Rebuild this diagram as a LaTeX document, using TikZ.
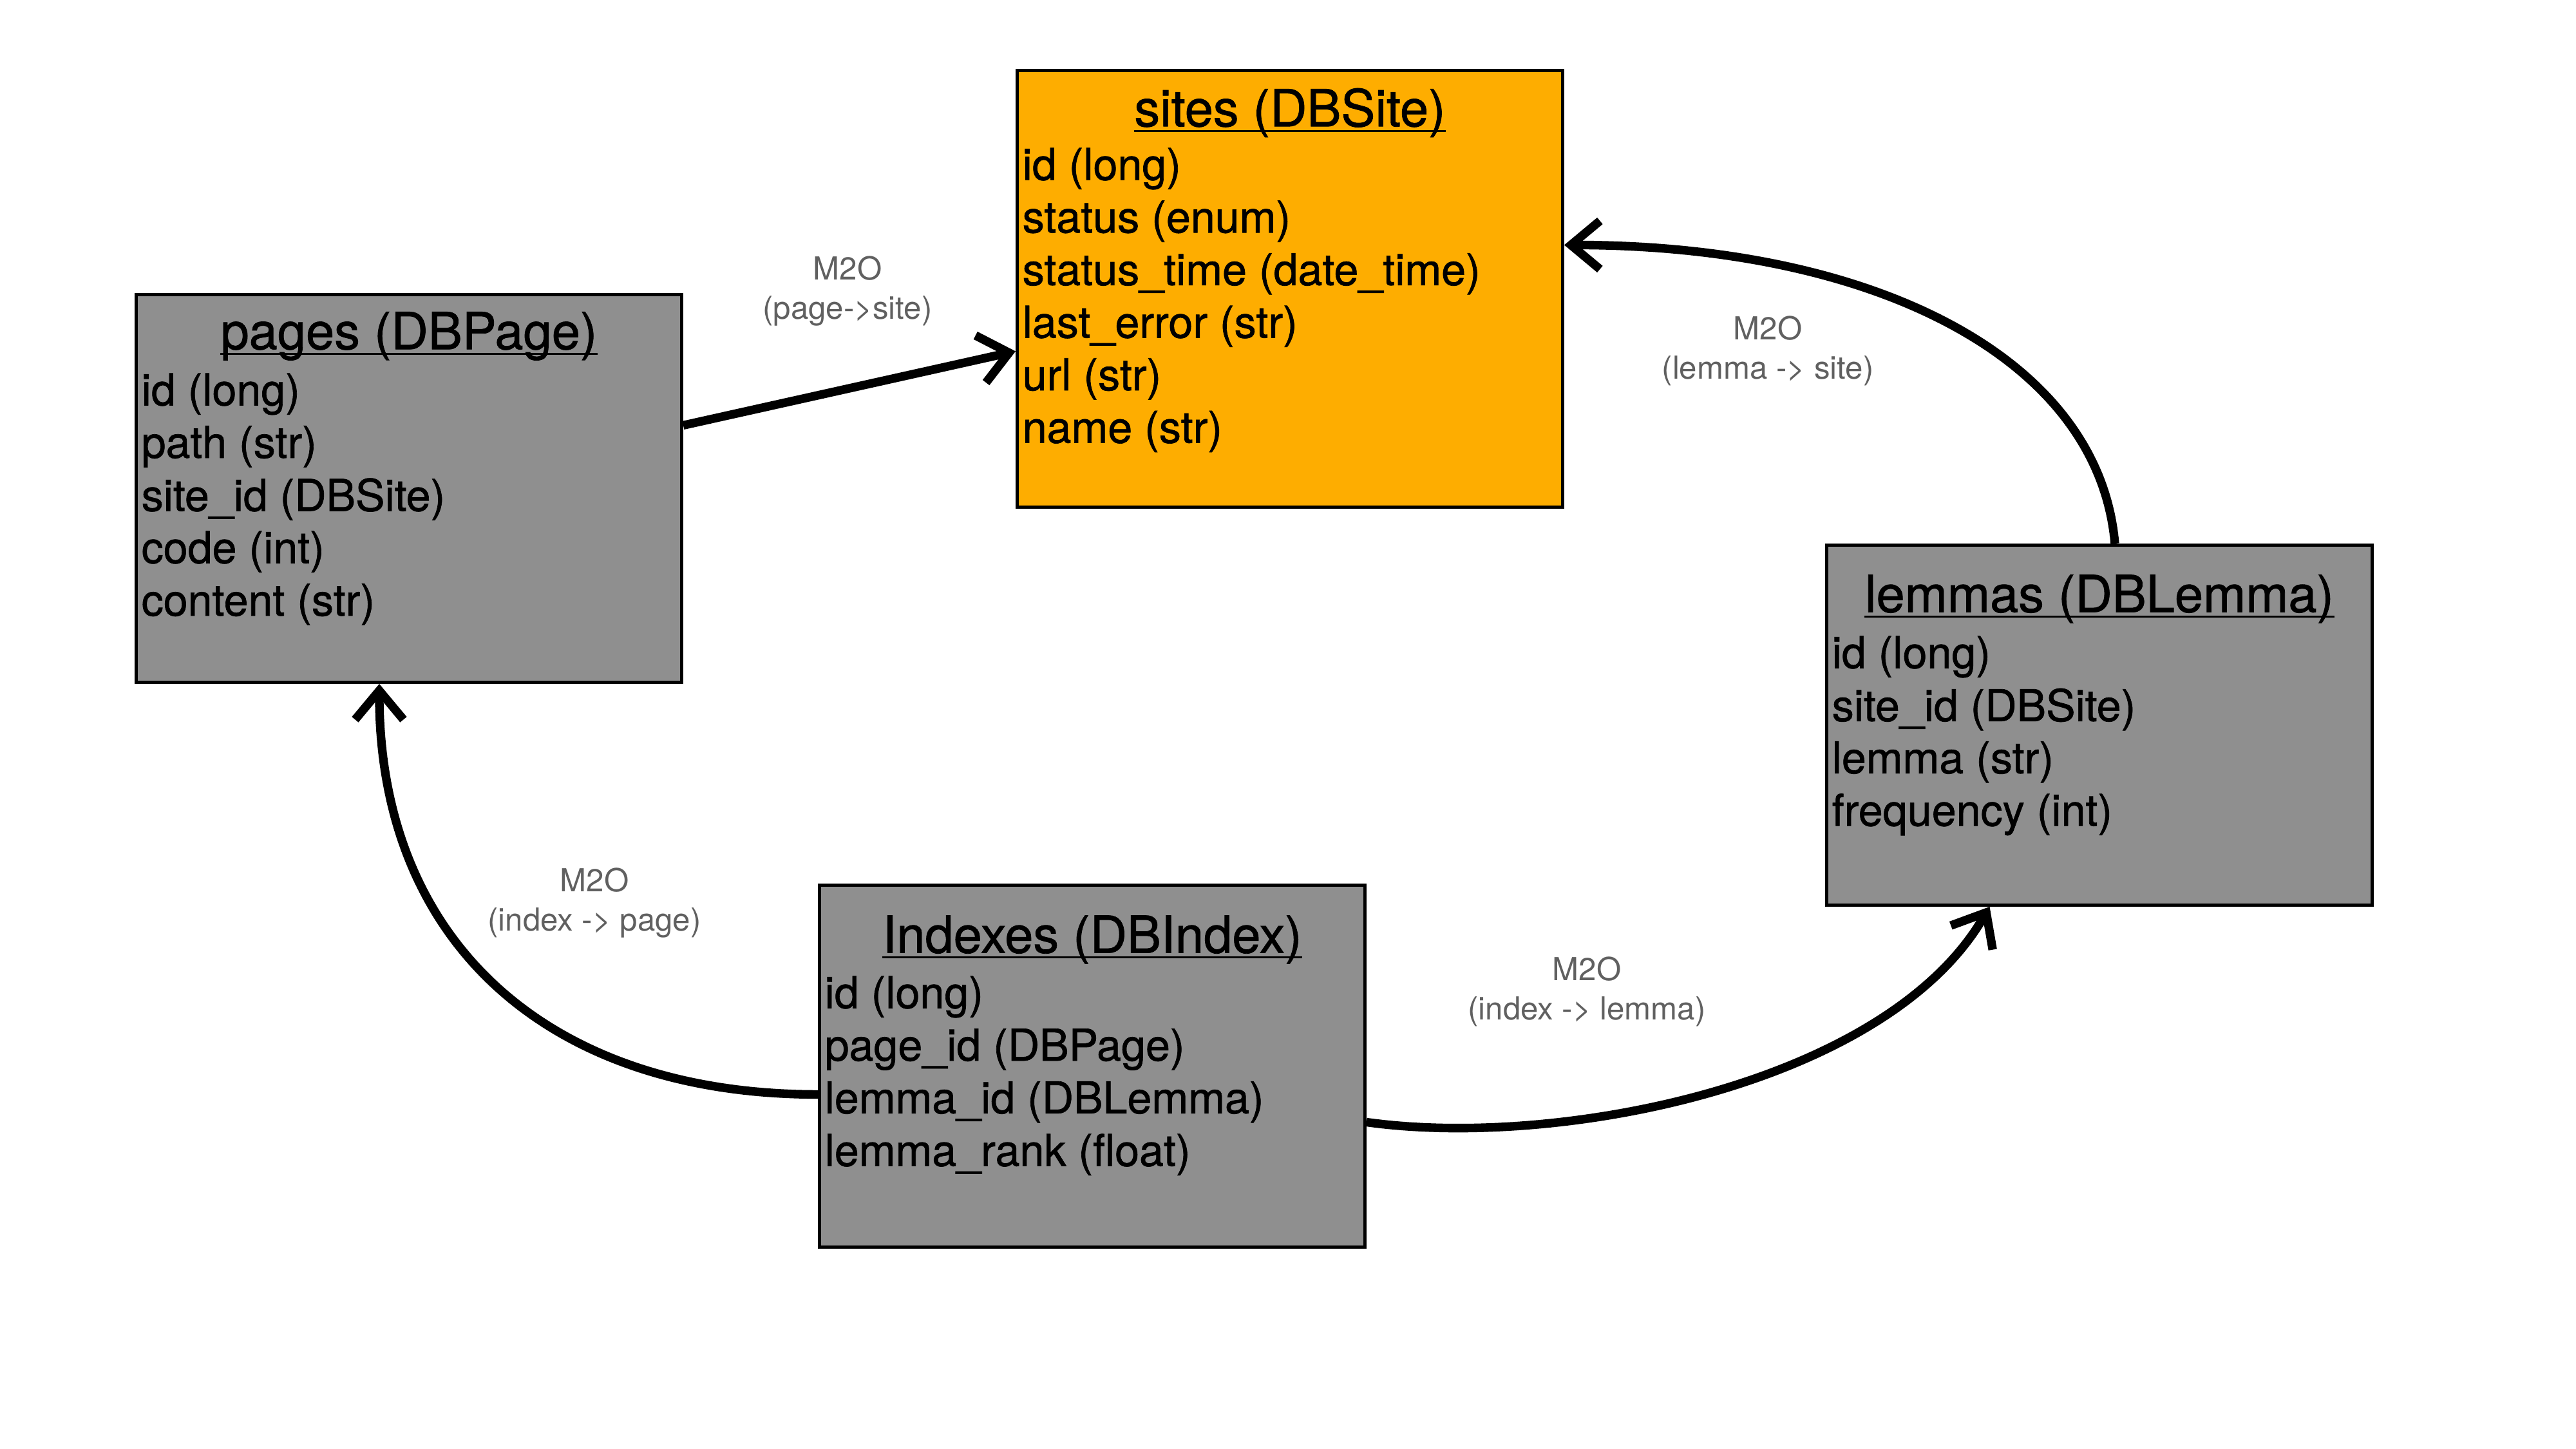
\documentclass[tikz,border=0pt]{standalone}
\usepackage{fontspec}
\setmainfont{TeX Gyre Heros}
\newfontfamily\tabfont[FakeBold=1]{TeX Gyre Heros}
\usetikzlibrary{arrows.meta}

\definecolor{siteorange}{HTML}{FEAD00}
\definecolor{tablegray}{HTML}{8F8F8F}
\definecolor{relgray}{HTML}{606060}

\begin{document}
\begin{tikzpicture}[
		table/.style={draw=black, line width=1.4pt, fill=tablegray, minimum width=8.47cm, inner sep=0pt, anchor=north west},
		tabtitle/.style={inner sep=0pt, font=\tabfont\fontsize{22.6}{26}\selectfont},
		field/.style={inner sep=0pt, anchor=west, font=\tabfont\fontsize{19.4}{23}\selectfont},
		uline/.style={line width=1pt},
		rel/.style={line width=3.8pt, -{Straight Barb[length=4.5mm, width=7.5mm]}},
		rellabel/.style={text=relgray, align=center, font=\fontsize{14}{17.4}\selectfont}
	]
	\useasboundingbox (0, 0) rectangle (40, -22.5);

	% tables
	\node[table, fill=siteorange, minimum height=6.78cm] (sites) at (15.77, -1.07) {};
	\node[table, minimum height=6.02cm] (pages) at (2.09, -4.55) {};
	\node[table, minimum height=5.59cm] (lemmas) at (28.34, -8.44) {};
	\node[table, minimum height=5.62cm] (indexes) at (12.70, -13.72) {};

	% titles
	\node[tabtitle] (sites-title) at ([yshift=-0.68cm]sites.north) {sites (DBSite)};
	\node[tabtitle] (pages-title) at ([yshift=-0.67cm]pages.north) {pages (DBPage)};
	\node[tabtitle] (lemmas-title) at ([yshift=-0.86cm]lemmas.north) {lemmas (DBLemma)};
	\node[tabtitle] (indexes-title) at ([yshift=-0.87cm]indexes.north) {Indexes (DBIndex)};
	\foreach \t in {sites-title, pages-title, lemmas-title, indexes-title}
		\draw[uline] ([yshift=-2pt]\t.base west) -- ([yshift=-2pt]\t.base east);

	% fields
	\foreach \f [count=\i] in {id (long), status (enum), status\_time (date\_time), last\_error (str), url (str), name (str)}
		\node[field] (sites-f\i) at ([xshift=0.1cm, yshift={-1.55cm-(\i-1)*0.816cm}]sites.north west) {\f};
	\foreach \f [count=\i] in {id (long), path (str), site\_id (DBSite), code (int), content (str)}
		\node[field] (pages-f\i) at ([xshift=0.1cm, yshift={-1.57cm-(\i-1)*0.816cm}]pages.north west) {\f};
	\foreach \f [count=\i] in {id (long), site\_id (DBSite), lemma (str), frequency (int)}
		\node[field] (lemmas-f\i) at ([xshift=0.1cm, yshift={-1.76cm-(\i-1)*0.816cm}]lemmas.north west) {\f};
	\foreach \f [count=\i] in {id (long), page\_id (DBPage), lemma\_id (DBLemma), lemma\_rank (float)}
		\node[field] (indexes-f\i) at ([xshift=0.1cm, yshift={-1.76cm-(\i-1)*0.816cm}]indexes.north west) {\f};

	% relations
	\draw[rel] ([yshift=0.98cm]pages.east) -- ([yshift=-0.97cm]sites.west);
	\node[rellabel] (page-site) at (13.16, -4.52) {M2O\\(page->site)};

	\draw[rel] ([xshift=0.24cm]lemmas.north) .. controls +(95:2.9) and +(4.8, 0) .. ([yshift=0.68cm]sites.east);
	\node[rellabel] (lemma-site) at (27.45, -5.45) {M2O\\(lemma -> site)};

	\draw[rel] ([yshift=-0.44cm]indexes.west) .. controls +(-4.2, 0) and +(0, -4.0) .. ([xshift=-0.46cm]pages.south);
	\node[rellabel] (index-page) at (9.23, -14.02) {M2O\\(index -> page)};

	\draw[rel] ([yshift=-0.87cm]indexes.east) .. controls +(-8:3) and +(240:3.2) .. ([xshift=-1.705cm]lemmas.south);
	\node[rellabel] (index-lemma) at (24.64, -15.40) {M2O\\(index -> lemma)};
\end{tikzpicture}
\end{document}
